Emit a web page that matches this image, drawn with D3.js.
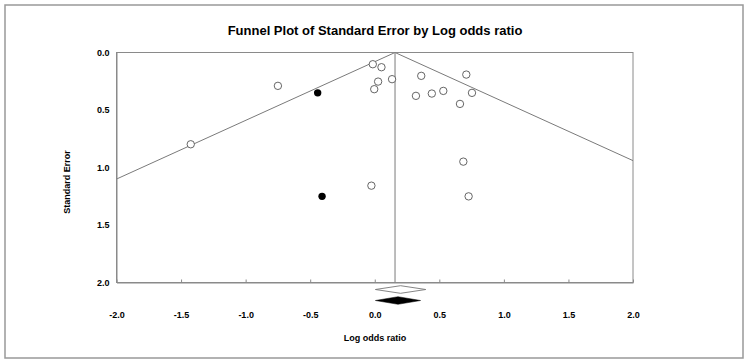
<!DOCTYPE html>
<html>
<head>
<meta charset="utf-8">
<script src="https://cdn.jsdelivr.net/npm/d3@7"></script>
<style>
  body { margin: 0; background: #fff; }
  text { font-family: "Liberation Sans", Arial, sans-serif; font-weight: bold; fill: #000; }
</style>
</head>
<body>
<script>
// observed studies (log odds ratio, standard error)
var observedX  = [-0.015, 0.052, 0.134, 0.026, -0.004, -0.750, -1.425, 0.360, 0.709, 0.319, 0.442, 0.531, 0.753, 0.660, 0.686, -0.026, 0.727];
var observedSE = [0.102, 0.128, 0.232, 0.253, 0.319, 0.290, 0.798, 0.203, 0.192, 0.377, 0.357, 0.334, 0.351, 0.447, 0.949, 1.158, 1.251];

// imputed studies (trim and fill)
var imputedX  = [-0.442, -0.408];
var imputedSE = [0.351, 1.251];

// combined effects: [low, point, high]
var observedEffect = [0.005, 0.200, 0.395];
var adjustedEffect = [0.005, 0.180, 0.355];
var funnelCenter = 0.157;

var xTicks = [-2.0, -1.5, -1.0, -0.5, 0.0, 0.5, 1.0, 1.5, 2.0];
var yTicks = [0.0, 0.5, 1.0, 1.5, 2.0];

var width = 750, height = 364,
    margin = {top: 52.5, right: 117, bottom: 81.5, left: 116.5};

var svg = d3.select("body").append("svg")
    .attr("width", width)
    .attr("height", height);

// outer frame
svg.append("rect")
    .attr("x", 5).attr("y", 5)
    .attr("width", 738).attr("height", 353)
    .attr("fill", "none")
    .attr("stroke", "#999")
    .attr("stroke-width", 1.5);

svg.append("text")
    .attr("x", 375).attr("y", 35)
    .attr("text-anchor", "middle")
    .style("font-size", "13px")
    .text("Funnel Plot of Standard Error by Log odds ratio");

var x = d3.scaleLinear().domain([-2, 2]).range([margin.left, width - margin.right]);
var y = d3.scaleLinear().domain([0, 2]).range([margin.top, height - margin.bottom]);

svg.append("clipPath").attr("id", "plotclip")
  .append("rect")
    .attr("x", x(-2)).attr("y", y(0))
    .attr("width", x(2) - x(-2)).attr("height", y(2) - y(0));

// plot frame
svg.append("rect")
    .attr("x", x(-2)).attr("y", y(0))
    .attr("width", x(2) - x(-2)).attr("height", y(2) - y(0))
    .attr("fill", "none")
    .attr("stroke", "#8a8a8a")
    .attr("stroke-width", 1);

// funnel lines, 95% limits
var g = svg.append("g").attr("clip-path", "url(#plotclip)");
[-1, 1].forEach(function(s) {
    g.append("line")
        .attr("x1", x(funnelCenter)).attr("y1", y(0))
        .attr("x2", x(funnelCenter + s * 1.96 * 2)).attr("y2", y(2))
        .attr("stroke", "#7a7a7a")
        .attr("stroke-width", 1);
});
g.append("line")
    .attr("x1", x(funnelCenter)).attr("y1", y(0))
    .attr("x2", x(funnelCenter)).attr("y2", y(2))
    .attr("stroke", "#7a7a7a")
    .attr("stroke-width", 1);

// axes
var xAxis = svg.append("g")
    .attr("transform", "translate(0," + y(2) + ")")
    .call(d3.axisBottom(x).tickValues(xTicks).tickSizeInner(-3).tickSizeOuter(0).tickPadding(29)
        .tickFormat(d3.format(".1f")));
xAxis.select(".domain").attr("stroke", "#8a8a8a");
xAxis.selectAll(".tick line").attr("stroke", "#8a8a8a");
xAxis.selectAll("text").style("font-size", "9px").attr("dy", "0.71em")
    .text(function(d) { return d3.format(".1f")(d).replace("\u2212", "-"); });

var yAxis = svg.append("g")
    .attr("transform", "translate(" + x(-2) + ",0)")
    .call(d3.axisLeft(y).tickValues(yTicks).tickSize(0).tickPadding(7)
        .tickFormat(d3.format(".1f")));
yAxis.select(".domain").attr("stroke", "#8a8a8a");
yAxis.selectAll("text").style("font-size", "9px");

svg.append("text")
    .attr("transform", "translate(70,182) rotate(-90)")
    .attr("text-anchor", "middle")
    .style("font-size", "9px")
    .text("Standard Error");

svg.append("text")
    .attr("x", 375).attr("y", 341)
    .attr("text-anchor", "middle")
    .style("font-size", "9px")
    .text("Log odds ratio");

// points
var obs = observedX.map(function(v, i) { return {x: v, se: observedSE[i]}; });
var imp = imputedX.map(function(v, i) { return {x: v, se: imputedSE[i]}; });

svg.selectAll("circle.obs").data(obs).enter().append("circle")
    .attr("class", "obs")
    .attr("cx", function(d) { return x(d.x); })
    .attr("cy", function(d) { return y(d.se); })
    .attr("r", 3.7)
    .attr("fill", "#fff")
    .attr("stroke", "#555")
    .attr("stroke-width", 0.9);

svg.selectAll("circle.imp").data(imp).enter().append("circle")
    .attr("class", "imp")
    .attr("cx", function(d) { return x(d.x); })
    .attr("cy", function(d) { return y(d.se); })
    .attr("r", 3.7)
    .attr("fill", "#000");

// diamonds
function diamond(e, cy, h) {
    return [[x(e[0]), cy], [x(e[1]), cy - h], [x(e[2]), cy], [x(e[1]), cy + h]];
}
var line = d3.line();
svg.append("path")
    .attr("d", line(diamond(observedEffect, 289.5, 3.8)) + "Z")
    .attr("fill", "#fff")
    .attr("stroke", "#777")
    .attr("stroke-width", 0.9);
svg.append("path")
    .attr("d", line(diamond(adjustedEffect, 300.5, 3.8)) + "Z")
    .attr("fill", "#000")
    .attr("stroke", "#000")
    .attr("stroke-width", 0.5);
</script>
</body>
</html>
